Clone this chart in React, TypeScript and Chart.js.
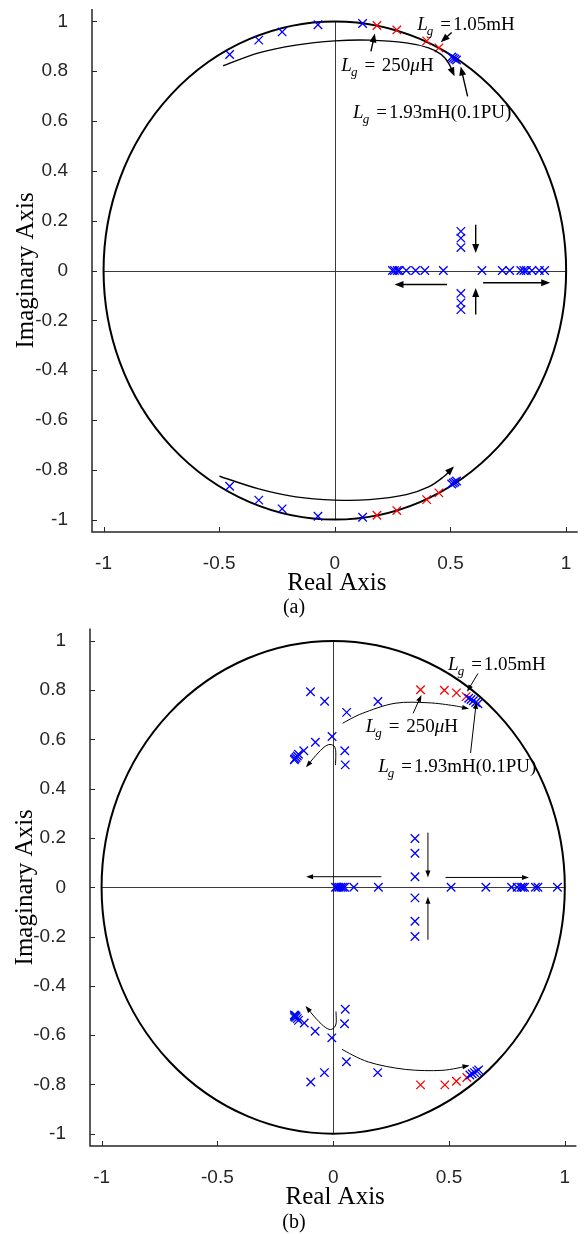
import React, { useEffect, useRef } from "react";
import { Chart, registerables } from "chart.js";

Chart.register(...registerables);

// ---------- axis ticks ----------
const xTickValues = [-1, -0.5, 0, 0.5, 1];
const xTickLabels = ["-1", "-0.5", "0", "0.5", "1"];
const yTickValues = [-1, -0.8, -0.6, -0.4, -0.2, 0, 0.2, 0.4, 0.6, 0.8, 1];
const yTickLabels = ["-1", "-0.8", "-0.6", "-0.4", "-0.2", "0", "0.2", "0.4", "0.6", "0.8", "1"];

// ---------- panel (a) poles ----------
const aBlueReal = [
  -0.455, -0.329, -0.228, -0.073, 0.12, 0.505, 0.512, 0.519, 0.526,
  -0.455, -0.329, -0.228, -0.073, 0.12, 0.505, 0.512, 0.519, 0.526,
  0.249, 0.258, 0.27, 0.278, 0.309, 0.349, 0.389, 0.469, 0.636, 0.724, 0.756, 0.804, 0.817, 0.828, 0.852, 0.884, 0.907,
  0.545, 0.545, 0.545, 0.545, 0.545, 0.545,
];
const aBlueImag = [
  0.867, 0.925, 0.958, 0.987, 0.992, 0.857, 0.853, 0.849, 0.845,
  -0.866, -0.922, -0.957, -0.987, -0.991, -0.857, -0.853, -0.849, -0.845,
  0, 0, 0, 0, 0, 0, 0, 0, 0, 0, 0, 0, 0, 0, 0, 0, 0,
  0.157, 0.13, 0.092, -0.092, -0.13, -0.157,
];
const aRedReal = [0.182, 0.268, 0.397, 0.45, 0.182, 0.268, 0.397, 0.45];
const aRedImag = [0.984, 0.966, 0.922, 0.894, -0.983, -0.964, -0.92, -0.893];

// ---------- panel (b) poles ----------
const bBlueReal = [
  -0.098, -0.037, 0.058, 0.193, -0.005, -0.077, -0.127, 0.05, 0.052,
  -0.15, -0.155, -0.16, -0.165, -0.168,
  0.585, 0.595, 0.605, 0.615, 0.625,
  -0.097, -0.038, 0.057, 0.192, -0.006, -0.078, -0.125, 0.049, 0.052,
  -0.15, -0.155, -0.16, -0.165, -0.168,
  0.59, 0.6, 0.61, 0.62, 0.628,
  0.01, 0.017, 0.025, 0.033, 0.041, 0.049, 0.089, 0.195, 0.509, 0.659, 0.77, 0.794, 0.81, 0.818, 0.826, 0.873, 0.884, 0.968,
  0.353, 0.353, 0.353, 0.353, 0.353, 0.353,
];
const bBlueImag = [
  0.794, 0.755, 0.71, 0.754, 0.612, 0.589, 0.554, 0.554, 0.497,
  0.54, 0.533, 0.527, 0.522, 0.518,
  0.767, 0.762, 0.757, 0.75, 0.745,
  -0.79, -0.752, -0.708, -0.752, -0.611, -0.584, -0.551, -0.554, -0.495,
  -0.54, -0.533, -0.527, -0.522, -0.518,
  -0.762, -0.757, -0.752, -0.746, -0.741,
  0, 0, 0, 0, 0, 0, 0, 0, 0, 0, 0, 0, 0, 0, 0, 0, 0, 0,
  0.198, 0.138, 0.043, -0.043, -0.138, -0.2,
];
const bRedReal = [0.377, 0.48, 0.532, 0.574, 0.377, 0.482, 0.532, 0.577];
const bRedImag = [0.802, 0.8, 0.789, 0.774, -0.802, -0.802, -0.787, -0.772];
const bDarkReal = [-0.163, -0.166];
const bDarkImag = [-0.522, -0.526];

// ---------- annotations (data units) ----------
type Seg = { t: string; it?: boolean };
type Note = { x: number; y: number; segs: Seg[] };

const aNotes: Note[] = [
  { x: 0.356, y: 0.964, segs: [{ t: "1.05mH" }] },
  { x: 0.028, y: 0.803, segs: [{ t: " 250" }, { t: "μ", it: true }, { t: "H" }] },
  { x: 0.079, y: 0.613, segs: [{ t: "1.93mH(0.1PU)" }] },
];
const aArrows = [
  [0.505, 0.956, 0.458, 0.916],
  [0.156, 0.88, 0.173, 0.952],
  [0.574, 0.699, 0.544, 0.819],
  [0.609, 0.184, 0.609, 0.07],
  [0.609, -0.177, 0.609, -0.07],
  [0.485, -0.056, 0.258, -0.056],
  [0.641, -0.049, 0.931, -0.049],
];
const aCurves = [
  [[-0.483, 0.822], [-0.329, 0.874], [-0.169, 0.905], [0, 0.922], [0.15, 0.925], [0.309, 0.914], [0.405, 0.894], [0.461, 0.867], [0.493, 0.831], [0.514, 0.787]],
  [[-0.499, -0.826], [-0.329, -0.877], [-0.169, -0.909], [0, -0.922], [0.15, -0.92], [0.309, -0.9], [0.405, -0.869], [0.469, -0.829], [0.509, -0.793]],
];

const bNotes: Note[] = [
  { x: 0.496, y: 0.882, segs: [{ t: "1.05mH" }] },
  { x: 0.14, y: 0.632, segs: [{ t: " 250" }, { t: "μ", it: true }, { t: "H" }] },
  { x: 0.194, y: 0.468, segs: [{ t: "1.93mH(0.1PU)" }] },
];
const bArrows = [
  [0.625, 0.868, 0.578, 0.794],
  [0.345, 0.706, 0.381, 0.781],
  [0.593, 0.545, 0.618, 0.753],
  [0.409, 0.222, 0.409, 0.04],
  [0.409, -0.213, 0.409, -0.038],
  [0.208, 0.043, -0.117, 0.043],
  [0.485, 0.04, 0.845, 0.04],
];
const bCurves = [
  [[0.041, 0.666], [0.126, 0.706], [0.267, 0.747], [0.409, 0.749], [0.522, 0.737], [0.578, 0.726]],
  [[0.038, -0.658], [0.152, -0.709], [0.311, -0.739], [0.469, -0.743], [0.58, -0.725]],
  [[0.01, 0.496], [0.01, 0.56], [-0.008, 0.579], [-0.035, 0.572], [-0.075, 0.535], [-0.112, 0.493]],
  [[0.012, -0.504], [0.012, -0.555], [-0.006, -0.576], [-0.032, -0.57], [-0.072, -0.535], [-0.114, -0.488]],
];

const SERIF = '"Liberation Serif", "Times New Roman", serif';
const SANS = '"Liberation Sans", Arial, sans-serif';
const AXIS_COLOR = "#262626";

type PanelCfg = {
  top: number;
  height: number;
  plotLeft: number;
  plotTop: number;
  plotBottom: number;
  realBase: number;
  labelBase: number;
  labelX: number;
  imagX: number;
  label: string;
  blue: [number[], number[]];
  red: [number[], number[]];
  dark?: [number[], number[]];
  notes: Note[];
  arrows: number[][];
  curves: number[][][];
  head: [number, number];
  arrowWidth: number;
};

function toPts(re: number[], im: number[]) {
  return re.map((v, i) => ({ x: v, y: im[i] }));
}

function arrowHead(ctx: CanvasRenderingContext2D, x: number, y: number, ang: number, len: number, w: number) {
  ctx.beginPath();
  ctx.moveTo(x, y);
  ctx.lineTo(x - len * Math.cos(ang) + (w / 2) * Math.sin(ang), y - len * Math.sin(ang) - (w / 2) * Math.cos(ang));
  ctx.lineTo(x - len * Math.cos(ang) - (w / 2) * Math.sin(ang), y - len * Math.sin(ang) + (w / 2) * Math.cos(ang));
  ctx.closePath();
  ctx.fill();
}

function makePlugin(cfg: PanelCfg) {
  return {
    id: "rootlocusDecor" + cfg.label,
    beforeDatasetsDraw(chart: any) {
      const { ctx, scales } = chart;
      const xs = scales.x;
      const ys = scales.y;
      const cx = xs.getPixelForValue(0);
      const cy = ys.getPixelForValue(0);
      const rx = xs.getPixelForValue(1) - cx;
      const ry = cy - ys.getPixelForValue(1);
      ctx.save();
      ctx.strokeStyle = "#3a3a3a";
      ctx.lineWidth = 1;
      ctx.beginPath();
      ctx.moveTo(xs.getPixelForValue(-1), Math.round(cy) + 0.5);
      ctx.lineTo(xs.getPixelForValue(1), Math.round(cy) + 0.5);
      ctx.moveTo(Math.round(cx) + 0.5, ys.getPixelForValue(1));
      ctx.lineTo(Math.round(cx) + 0.5, ys.getPixelForValue(-1));
      ctx.stroke();
      ctx.strokeStyle = "#000";
      ctx.lineWidth = 2;
      ctx.beginPath();
      ctx.ellipse(cx, cy, rx, ry, 0, 0, Math.PI * 2);
      ctx.stroke();
      ctx.restore();
    },
    afterDatasetsDraw(chart: any) {
      const { ctx, scales, chartArea } = chart;
      const xs = scales.x;
      const ys = scales.y;
      const P = (x: number, y: number) => [xs.getPixelForValue(x), ys.getPixelForValue(y)];
      ctx.save();
      // spines
      ctx.strokeStyle = AXIS_COLOR;
      ctx.lineWidth = 1.5;
      ctx.beginPath();
      ctx.moveTo(chartArea.left, chartArea.top);
      ctx.lineTo(chartArea.left, chartArea.bottom);
      ctx.lineTo(chartArea.right, chartArea.bottom);
      ctx.stroke();
      ctx.lineWidth = 1;
      ctx.beginPath();
      for (const v of yTickValues) {
        const py = Math.round(ys.getPixelForValue(v)) + 0.5;
        ctx.moveTo(chartArea.left, py);
        ctx.lineTo(chartArea.left + 5, py);
      }
      for (const v of xTickValues) {
        const px = Math.round(xs.getPixelForValue(v)) + 0.5;
        ctx.moveTo(px, chartArea.bottom);
        ctx.lineTo(px, chartArea.bottom - 5);
      }
      ctx.stroke();

      // arrows
      ctx.strokeStyle = "#000";
      ctx.fillStyle = "#000";
      ctx.lineWidth = cfg.arrowWidth;
      const [hl, hw] = cfg.head;
      for (const a of cfg.arrows) {
        const [x1, y1] = P(a[0], a[1]);
        const [x2, y2] = P(a[2], a[3]);
        const ang = Math.atan2(y2 - y1, x2 - x1);
        ctx.beginPath();
        ctx.moveTo(x1, y1);
        ctx.lineTo(x2 - (hl - 1) * Math.cos(ang), y2 - (hl - 1) * Math.sin(ang));
        ctx.stroke();
        arrowHead(ctx, x2, y2, ang, hl, hw);
      }
      // curves (Catmull-Rom)
      for (const c of cfg.curves) {
        const pts = c.map((p) => P(p[0], p[1]));
        ctx.beginPath();
        ctx.moveTo(pts[0][0], pts[0][1]);
        let lastCp = pts[0];
        for (let i = 0; i < pts.length - 1; i++) {
          const p0 = pts[i - 1] || pts[i];
          const p1 = pts[i];
          const p2 = pts[i + 1];
          const p3 = pts[i + 2] || p2;
          const c1 = [p1[0] + (p2[0] - p0[0]) / 6, p1[1] + (p2[1] - p0[1]) / 6];
          const c2 = [p2[0] - (p3[0] - p1[0]) / 6, p2[1] - (p3[1] - p1[1]) / 6];
          ctx.bezierCurveTo(c1[0], c1[1], c2[0], c2[1], p2[0], p2[1]);
          lastCp = c2;
        }
        ctx.stroke();
        const end = pts[pts.length - 1];
        const prev = pts[pts.length - 2];
        const ang = Math.atan2(end[1] - (lastCp[1] + prev[1]) / 2, end[0] - (lastCp[0] + prev[0]) / 2);
        arrowHead(ctx, end[0] + Math.cos(ang) * 2, end[1] + Math.sin(ang) * 2, ang, hl, hw);
      }

      // notes
      const fs = 19;
      for (const n of cfg.notes) {
        const [px, py] = P(n.x, n.y);
        ctx.fillStyle = "#000";
        ctx.textBaseline = "alphabetic";
        ctx.textAlign = "left";
        ctx.font = `italic ${fs}px ${SERIF}`;
        ctx.fillText("L", px, py);
        let cur = px + ctx.measureText("L").width - 1;
        ctx.font = `italic ${Math.round(fs * 0.68)}px ${SERIF}`;
        ctx.fillText("g", cur, py + 5);
        cur += ctx.measureText("g").width + 7;
        ctx.font = `${fs}px ${SERIF}`;
        ctx.fillText("=", cur, py);
        cur += ctx.measureText("=").width + 2;
        for (const s of n.segs) {
          ctx.font = `${s.it ? "italic " : ""}${fs}px ${SERIF}`;
          ctx.fillText(s.t, cur, py);
          cur += ctx.measureText(s.t).width;
        }
      }

      // axis titles
      ctx.fillStyle = "#000";
      ctx.font = `25px ${SERIF}`;
      ctx.textAlign = "center";
      ctx.textBaseline = "alphabetic";
      ctx.fillText("Real Axis", (chartArea.left + chartArea.right) / 2 + 2, cfg.realBase);
      ctx.save();
      ctx.translate(cfg.imagX, (chartArea.top + chartArea.bottom) / 2);
      ctx.rotate(-Math.PI / 2);
      ctx.fillText("Imaginary Axis", 0, 0);
      ctx.restore();
      ctx.font = `20px ${SERIF}`;
      ctx.fillText(cfg.label, cfg.labelX, cfg.labelBase);
      ctx.restore();
    },
  };
}

function Panel({ cfg }: { cfg: PanelCfg }) {
  const ref = useRef<HTMLCanvasElement>(null);
  useEffect(() => {
    if (!ref.current) return;
    const markerBase = { pointStyle: "crossRot", pointRadius: 6, pointBorderWidth: 1.3, showLine: false };
    const datasets: any[] = [
      { ...markerBase, data: toPts(cfg.blue[0], cfg.blue[1]), borderColor: "#0000ff", backgroundColor: "#0000ff" },
      { ...markerBase, data: toPts(cfg.red[0], cfg.red[1]), borderColor: "#ff0000", backgroundColor: "#ff0000" },
    ];
    if (cfg.dark) {
      datasets.push({ ...markerBase, pointBorderWidth: 2.6, data: toPts(cfg.dark[0], cfg.dark[1]), borderColor: "#1f5aa6", backgroundColor: "#1f5aa6" });
    }
    const chart = new Chart(ref.current, {
      type: "scatter",
      data: { datasets },
      options: {
        animation: false,
        responsive: false,
        maintainAspectRatio: false,
        devicePixelRatio: 1,
        layout: { padding: { top: cfg.plotTop, right: 0, left: 0, bottom: 0 } },
        plugins: { legend: { display: false }, tooltip: { enabled: false } },
        elements: { point: { hoverRadius: 6 } },
        scales: {
          x: {
            type: "linear",
            min: -1.05,
            max: 1.05,
            grid: { display: false },
            border: { display: false },
            ticks: {
              includeBounds: false,
              autoSkip: false,
              maxRotation: 0,
              padding: 12,
              color: AXIS_COLOR,
              font: { family: SANS, size: 19 },
              callback: (_v: any, i: number) => xTickLabels[i],
            },
            afterBuildTicks: (s: any) => {
              s.ticks = xTickValues.map((v) => ({ value: v }));
            },
            afterFit: (s: any) => {
              s.height = cfg.height - cfg.plotBottom;
              s.paddingLeft = 0;
              s.paddingRight = 0;
            },
          },
          y: {
            type: "linear",
            min: -1.05,
            max: 1.05,
            grid: { display: false },
            border: { display: false },
            ticks: {
              includeBounds: false,
              autoSkip: false,
              padding: 16,
              color: AXIS_COLOR,
              font: { family: SANS, size: 19 },
              callback: (_v: any, i: number) => yTickLabels[i],
            },
            afterBuildTicks: (s: any) => {
              s.ticks = yTickValues.map((v) => ({ value: v }));
            },
            afterFit: (s: any) => {
              s.width = cfg.plotLeft;
              s.paddingTop = 0;
              s.paddingBottom = 0;
            },
          },
        },
      } as any,
      plugins: [makePlugin(cfg) as any],
    });
    return () => chart.destroy();
  }, [cfg]);
  return (
    <div style={{ position: "absolute", left: 0, top: cfg.top, width: 585, height: cfg.height }}>
      <canvas ref={ref} width={585} height={cfg.height} style={{ width: 585, height: cfg.height, display: "block" }} />
    </div>
  );
}

const panelA: PanelCfg = {
  top: 0,
  height: 620,
  plotLeft: 92,
  plotTop: 9,
  plotBottom: 532,
  realBase: 590,
  labelBase: 613,
  labelX: 294,
  imagX: 33,
  label: "(a)",
  blue: [aBlueReal, aBlueImag],
  red: [aRedReal, aRedImag],
  notes: aNotes,
  arrows: aArrows,
  curves: aCurves,
  head: [9, 7],
  arrowWidth: 1.4,
};

const panelB: PanelCfg = {
  top: 620,
  height: 614,
  plotLeft: 90,
  plotTop: 6,
  plotBottom: 526,
  realBase: 584,
  labelBase: 608,
  labelX: 294,
  imagX: 32,
  label: "(b)",
  blue: [bBlueReal, bBlueImag],
  red: [bRedReal, bRedImag],
  dark: [bDarkReal, bDarkImag],
  notes: bNotes,
  arrows: bArrows,
  curves: bCurves,
  head: [7, 5],
  arrowWidth: 1,
};

export default function App() {
  return (
    <div style={{ position: "absolute", left: 0, top: 0, width: 585, height: 1234, background: "#fff", overflow: "hidden" }}>
      <Panel cfg={panelA} />
      <Panel cfg={panelB} />
    </div>
  );
}
